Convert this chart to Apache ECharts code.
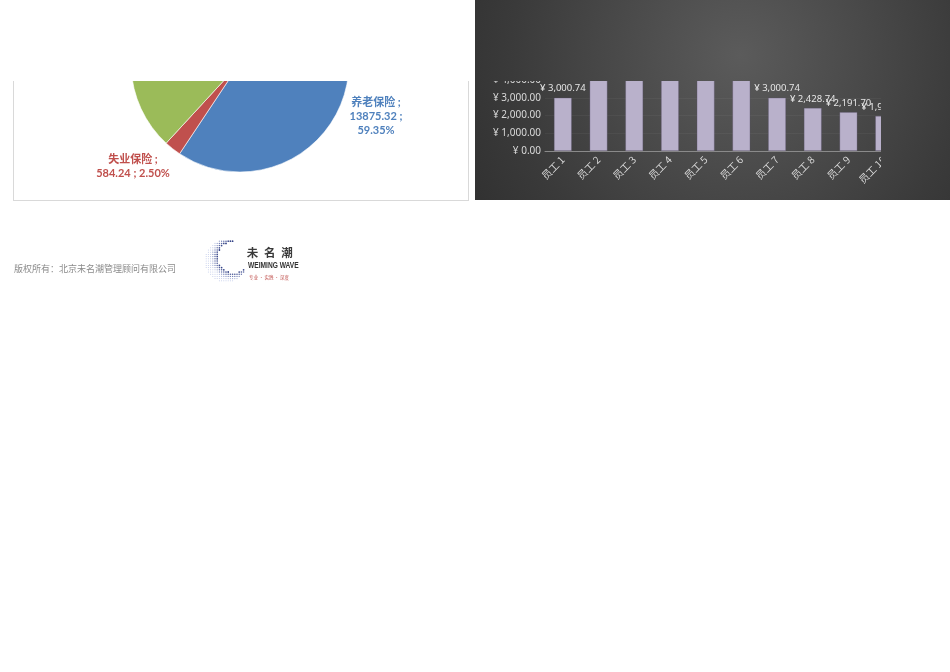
<!DOCTYPE html>
<html>
<head>
<meta charset="utf-8">
<script src="https://cdn.jsdelivr.net/npm/echarts@6/dist/echarts.min.js"></script>
<style>
  html, body { margin: 0; padding: 0; background: #ffffff; }
  body { width: 950px; height: 672px; position: relative; overflow: hidden; }
  .abs { position: absolute; }
  #pieClip { left: 13px; top: 81px; width: 456px; height: 120px; box-sizing: border-box;
             border-left: 1px solid #d9d9d9; border-right: 1px solid #d9d9d9; border-bottom: 1px solid #d9d9d9;
             overflow: hidden; }
  #pieChart { left: -14px; top: -81px; width: 470px; height: 210px; }
  #darkPanel { left: 475px; top: 0px; width: 475px; height: 200px;
               background: radial-gradient(circle at 265px 55px, #5b5b5b 0px, #4a4a4a 120px, #3a3a3a 230px, #2e2e2e 330px); }
  #barClip { left: 0px; top: 81px; width: 406px; height: 119px; overflow: hidden; }
  #barChart { left: 0px; top: -81px; width: 520px; height: 200px; }
  #footer { left: 0px; top: 230px; width: 330px; height: 60px; }
</style>
</head>
<body>
<div id="pieClip" class="abs"><div id="pieChart" class="abs"></div></div>
<div id="darkPanel" class="abs"><div id="barClip" class="abs"><div id="barChart" class="abs"></div></div></div>
<div id="footer" class="abs"></div>
<script>
// ---------- data ----------
var pieNames = ['养老保险', '失业保险', '医疗保险', '工伤保险', '生育保险'];
var pieValues = [13875.32, 584.24, 7012.00, 1207.24, 700.00];
var pieColors = ['#4f81bd', '#c0504d', '#9bbb59', '#8064a2', '#4bacc6'];

var employees = ['员工 1', '员工 2', '员工 3', '员工 4', '员工 5', '员工 6', '员工 7', '员工 8', '员工 9', '员工 10'];
var salaries = [3000.74, 5200.74, 4876.30, 5000.74, 4600.00, 5400.74, 3000.74, 2428.74, 2191.70, 1976.50];

var yTicksMin = 0, yTicksMax = 6000, yTickStep = 1000;

var copyrightText = '版权所有：北京未名潮管理顾问有限公司';
var logoChars = ['未', '名', '潮'];
var logoEn = 'WEIMING WAVE';
var logoSlogan = '专业 · 实践 · 深度';

function money(v) {
  return '¥ ' + Number(v).toLocaleString('en-US', { minimumFractionDigits: 2, maximumFractionDigits: 2 });
}

// ---------- pie ----------
var pie = echarts.init(document.getElementById('pieChart'), null, { renderer: 'canvas' });
var labelPos = { 0: [376, 116], 1: [133, 166] };
pie.setOption({
  animation: false,
  series: [{
    type: 'pie',
    center: [240, 63],
    radius: 109,
    startAngle: 90,
    clockwise: true,
    avoidLabelOverlap: false,
    itemStyle: { borderColor: '#ffffff', borderWidth: 0.6 },
    label: {
      show: true,
      position: 'outside',
      fontFamily: 'Lato, "Noto Sans CJK SC", sans-serif',
      fontWeight: 'bold',
      fontSize: 11,
      lineHeight: 14,
      align: 'center',
      formatter: function (p) {
        var pct = p.percent.toFixed(2) + '%';
        if (p.dataIndex === 0) return p.name + ' ;\n' + p.value + ' ;\n' + pct;
        return p.name + ' ;\n' + p.value + ' ; ' + pct;
      }
    },
    labelLine: { show: false },
    labelLayout: function (params) {
      var pos = labelPos[params.dataIndex];
      if (pos) return { x: pos[0], y: pos[1], align: 'center', verticalAlign: 'middle' };
      return { y: -200 };
    },
    data: pieNames.map(function (n, i) {
      return { name: n, value: pieValues[i], itemStyle: { color: pieColors[i] }, label: { color: pieColors[i] } };
    })
  }]
});

// ---------- bar ----------
var bar = echarts.init(document.getElementById('barChart'), null, { renderer: 'canvas' });
bar.setOption({
  animation: false,
  grid: { left: 70, top: 44.5, bottom: 49, right: 93, containLabel: false },
  xAxis: {
    type: 'category',
    data: employees,
    axisLine: { show: true, lineStyle: { color: '#8a8a8a', width: 1 } },
    axisTick: { show: false },
    axisLabel: { rotate: 45, color: '#d9d9d9', fontSize: 10, margin: 7, fontFamily: '"Noto Sans CJK SC", sans-serif' }
  },
  yAxis: {
    type: 'value',
    min: yTicksMin, max: yTicksMax, interval: yTickStep,
    axisLine: { show: false },
    axisTick: { show: false },
    splitLine: { lineStyle: { color: 'rgba(255,255,255,0.045)', width: 1 } },
    axisLabel: { color: '#d9d9d9', fontSize: 10, margin: 4, fontFamily: '"Noto Sans", sans-serif', formatter: money }
  },
  series: [{
    type: 'bar',
    data: salaries,
    barWidth: '50%',
    itemStyle: { color: '#b9b1cb', borderColor: 'rgba(90,80,110,0.5)', borderWidth: 0.6 },
    label: {
      show: true, position: 'top', distance: 4, color: '#e6e6e6', fontSize: 9.5,
      fontFamily: '"Noto Sans", sans-serif',
      formatter: function (p) { return money(p.value); }
    }
  }]
});

// ---------- footer (copyright + logo) ----------
var foot = echarts.init(document.getElementById('footer'), null, { renderer: 'canvas' });
var dots = [];
(function () {
  var ocx = 226, ocy = 31, orad = 21;   // outer circle (chart coords)
  var icx = 233.5, icy = 27, irad = 15.5; // inner circle
  for (var x = 204; x <= 245; x += 2.2) {
    for (var y = 9; y <= 53; y += 2.2) {
      var dO = Math.hypot(x - ocx, y - ocy);
      var dI = Math.hypot(x - icx, y - icy);
      if (dO <= orad && dI >= irad && x <= 244) {
        var t = Math.min(1, Math.max(0, (dI - irad) / 8));
        var c1 = [45, 60, 130], c2 = [190, 200, 232];
        var col = 'rgb(' + Math.round(c1[0] + (c2[0] - c1[0]) * t) + ',' + Math.round(c1[1] + (c2[1] - c1[1]) * t) + ',' + Math.round(c1[2] + (c2[2] - c1[2]) * t) + ')';
        dots.push({ type: 'circle', shape: { cx: x, cy: y, r: 0.9 - 0.4 * t }, style: { fill: col }, silent: true });
      }
    }
  }
})();
var logoTexts = logoChars.map(function (ch, i) {
  return { type: 'text', x: 252.5 + i * 17.3, y: 22.5,
           style: { text: ch, fill: '#3a3a3a', font: 'bold 11.5px "Noto Sans CJK SC"', align: 'center', verticalAlign: 'middle' } };
});
foot.setOption({
  animation: false,
  graphic: [
    { type: 'text', x: 14, y: 39,
      style: { text: copyrightText, fill: '#8a8a8a', font: '9px "Noto Sans CJK SC"', verticalAlign: 'middle' } },
    { type: 'group', children: dots },
    { type: 'text', x: 248, y: 35.5, scaleX: 0.78,
      style: { text: logoEn, fill: '#333333', font: 'bold 8.5px "Liberation Sans"', verticalAlign: 'middle' } },
    { type: 'text', x: 249, y: 47.5,
      style: { text: logoSlogan, fill: '#c0504d', font: '4.5px "Noto Sans CJK SC"', verticalAlign: 'middle' } }
  ].concat(logoTexts)
});
</script>
</body>
</html>
